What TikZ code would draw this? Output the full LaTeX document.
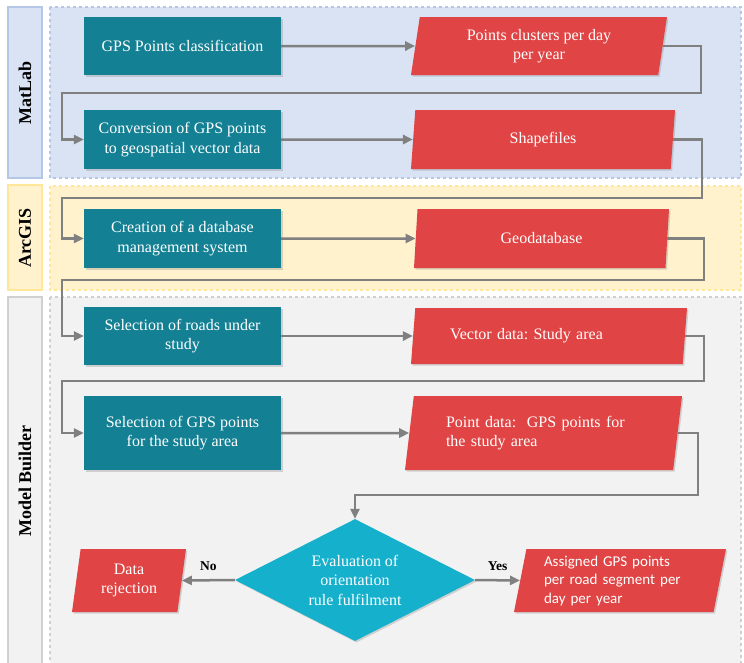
\documentclass[tikz,border=0pt]{standalone}
\usepackage{fontspec}
\setmainfont{Liberation Serif}
\newfontfamily\calibrifont{Carlito}
\usetikzlibrary{arrows.meta, shapes.geometric, shadows}
\definecolor{procteal}{HTML}{138094}
\definecolor{datared}{HTML}{E04444}
\definecolor{evalcyan}{HTML}{15B0CC}
\definecolor{flowgrey}{HTML}{808080}
\definecolor{matfill}{HTML}{DAE3F3}
\definecolor{matline}{HTML}{B4C7E7}
\definecolor{arcfill}{HTML}{FFF2CC}
\definecolor{arcline}{HTML}{FFE699}
\definecolor{mbfill}{HTML}{F2F2F2}
\definecolor{mbline}{HTML}{D0D0D0}
\newcommand{\boxfont}{\fontsize{16}{19.5}\selectfont}
\frenchspacing

\begin{document}
\begin{tikzpicture}[x=1pt, y=-1pt,
    lane/.style={dashed, line width=1.2pt},
    lanelabel/.style={line width=1.5pt},
    lanetext/.style={rotate=90, font=\bfseries\fontsize{18}{20}\selectfont},
    proc/.style={rectangle, fill=procteal, text=white, align=center,
                 minimum width=197pt, inner sep=2pt, font=\boxfont,
                 drop shadow={shadow xshift=1.5pt, shadow yshift=-1.5pt, opacity=0.3}},
    data/.style={trapezium, trapezium left angle=77, trapezium right angle=103,
                 trapezium stretches body, fill=datared, text=white, align=center,
                 inner sep=2pt, font=\boxfont,
                 drop shadow={shadow xshift=1.5pt, shadow yshift=-1.5pt, opacity=0.3}},
    flow/.style={draw=flowgrey, line width=2.5pt, -{Triangle[length=10pt, width=9pt]}},
    answer/.style={font=\bfseries\fontsize{13.5}{15}\selectfont, above=5pt}]
\useasboundingbox (0,0) rectangle (744,662);

% swim lanes
\begin{scope}
\clip (0,0) rectangle (744,662);
\draw[lane, fill=matfill, draw=matline] (50,7) rectangle (741,178);
\draw[lane, fill=arcfill, draw=arcline] (50,186) rectangle (741,290);
\draw[lane, fill=mbfill, draw=mbline] (50,297) rectangle (741,672);
\draw[lanelabel, fill=matfill, draw=matline] (8,7) rectangle (42,178);
\draw[lanelabel, fill=arcfill, draw=arcline] (8,185) rectangle (42,290);
\draw[lanelabel, fill=mbfill, draw=mbline] (8,297) rectangle (42,672);
\end{scope}
\node[lanetext] (lmat) at (25,93) {MatLab};
\node[lanetext] (larc) at (25,238) {ArcGIS};
\node[lanetext] (lmb)  at (25,481) {Model Builder};

% processes
\node[proc, minimum height=58pt] (cls)  at (182.5,46)  {GPS Points classification};
\node[proc, minimum height=59pt] (conv) at (182.5,139.5) {Conversion of GPS points\\to geospatial vector data};
\node[proc, minimum height=59pt] (dbms) at (182.5,238.5) {Creation of a database\\management system};
\node[proc, minimum height=58pt] (road) at (182.5,336) {Selection of roads under\\study};
\node[proc, minimum height=74pt] (sel)  at (182.5,433) {Selection of GPS points\\for the study area};

% data
\node[data, minimum width=256pt, minimum height=58pt] (clu) at (539,46) {Points clusters per day\\per year};
\node[data, minimum width=264pt, minimum height=59pt] (shp) at (543,139.5) {Shapefiles};
\node[data, minimum width=255pt, minimum height=59pt] (gdb) at (541.5,238.5) {Geodatabase};
\node[data, minimum width=276pt, minimum height=56pt, text width=198pt, align=left] (vec) at (549,336) {Vector data: Study area};
\node[data, minimum width=277pt, minimum height=74pt, text width=195pt, align=left] (pnt) at (543.5,433) {Point data:~ GPS points for\\the study area};
\node[diamond, fill=evalcyan, text=white, align=center, inner sep=0pt, aspect=2,
      minimum width=240pt, minimum height=122pt, font=\boxfont,
      drop shadow={shadow xshift=1.5pt, shadow yshift=-1.5pt, opacity=0.3}] (eval) at (355,580)
      {Evaluation of\\orientation\\rule fulfilment};
\node[data, minimum width=114pt, minimum height=63pt] (rej) at (129,580.5) {Data\\rejection};
\node[data, minimum width=212pt, minimum height=63pt, text width=152pt, align=left,
      font=\calibrifont\fontsize{15}{18.5}\selectfont] (asg) at (620,580.5)
      {Assigned GPS points\\per road segment per\\day per year};

% return rails
\coordinate (r1) at (701,93);  \coordinate (l1) at (62,93);
\coordinate (r2) at (702,198); \coordinate (l2) at (62,198);
\coordinate (r3) at (704,280); \coordinate (l3) at (62,280);
\coordinate (r4) at (704,381); \coordinate (l4) at (62,381);
\coordinate (r5) at (698,495);

\draw[flow] (cls) -- (clu);
\draw[flow] (clu.east) -| (r1) -- (l1) |- (conv.west);
\draw[flow] (conv) -- (shp);
\draw[flow] (shp.east) -| (r2) -- (l2) |- (dbms.west);
\draw[flow] (dbms) -- (gdb);
\draw[flow] (gdb.east) -| (r3) -- (l3) |- (road.west);
\draw[flow] (road) -- (vec);
\draw[flow] (vec.east) -| (r4) -- (l4) |- (sel.west);
\draw[flow] (sel) -- (pnt);
\draw[flow] (pnt.east) -| (r5) -| (eval.north);
\draw[flow] (eval.west) -- node[answer] {No} (rej.east);
\draw[flow] (eval.east) -- node[answer] {Yes} (asg.west);
\end{tikzpicture}
\end{document}
